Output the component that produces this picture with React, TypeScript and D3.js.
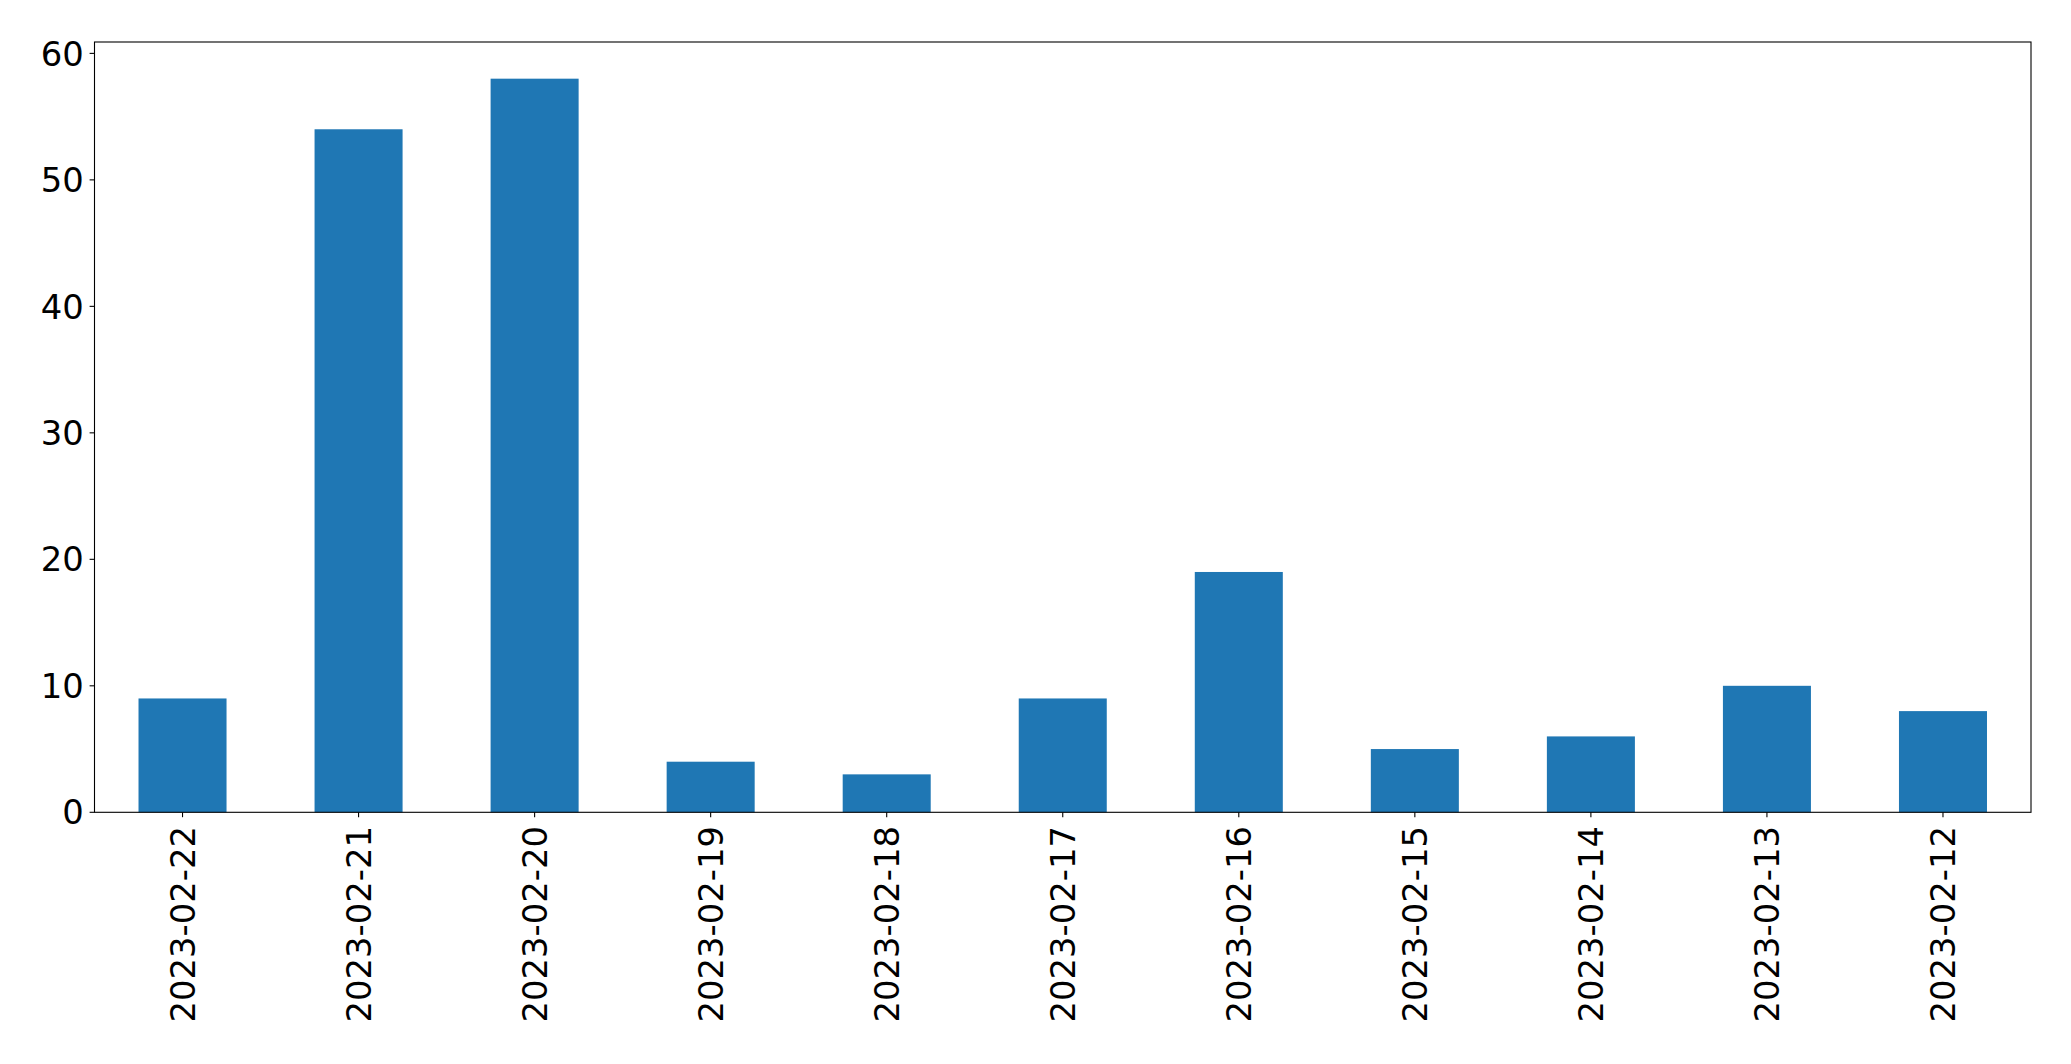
import React from "react";
import * as d3 from "d3";

const categories = [
  "2023-02-22", "2023-02-21", "2023-02-20", "2023-02-19", "2023-02-18", "2023-02-17",
  "2023-02-16", "2023-02-15", "2023-02-14", "2023-02-13", "2023-02-12",
];
const values = [9, 54, 58, 4, 3, 9, 19, 5, 6, 10, 8];
const yTicks = [0, 10, 20, 30, 40, 50, 60];

const W = 2071;
const H = 1064;
const left = 94.5;
const right = 2031;
const top = 42;
const bottom = 812.3;
const fontSize = 33.8;
const tickLen = 4.9;
const pad = 4.9;
const font = "'DejaVu Sans', sans-serif";

export default function App() {
  const x = d3.scaleBand<string>().domain(categories).range([left, right]).paddingInner(0.5).paddingOuter(0.25);
  const yMax = d3.max(values)! * 1.05;
  const y = d3.scaleLinear().domain([0, yMax]).range([bottom, top]);
  return (
    <svg width={W} height={H} style={{ position: "absolute", left: 0, top: 0, background: "#fff" }}>
      <rect x={0} y={0} width={W} height={H} fill="#fff" />
      {categories.map((c, i) => (
        <rect key={c} x={x(c)!} y={y(values[i])} width={x.bandwidth()} height={y(0) - y(values[i])} fill="#1f77b4" />
      ))}
      <rect x={left} y={top} width={right - left} height={bottom - top} fill="none" stroke="#000" strokeWidth={1.1} />
      {yTicks.map((t) => (
        <g key={t}>
          <line x1={left - tickLen} x2={left} y1={y(t)} y2={y(t)} stroke="#000" strokeWidth={1.1} />
          <text x={left - tickLen - pad - 1} y={y(t)} dy="0.36em" textAnchor="end" fontFamily={font} fontSize={fontSize} fill="#000">
            {t}
          </text>
        </g>
      ))}
      {categories.map((c) => {
        const cx = x(c)! + x.bandwidth() / 2;
        return (
          <g key={c}>
            <line x1={cx} x2={cx} y1={bottom} y2={bottom + tickLen} stroke="#000" strokeWidth={1.1} />
            <text
              transform={`translate(${cx},${bottom + tickLen + pad + 4}) rotate(-90)`}
              dy="0.36em"
              textAnchor="end"
              fontFamily={font}
              fontSize={fontSize}
              fill="#000"
            >
              {c}
            </text>
          </g>
        );
      })}
    </svg>
  );
}
